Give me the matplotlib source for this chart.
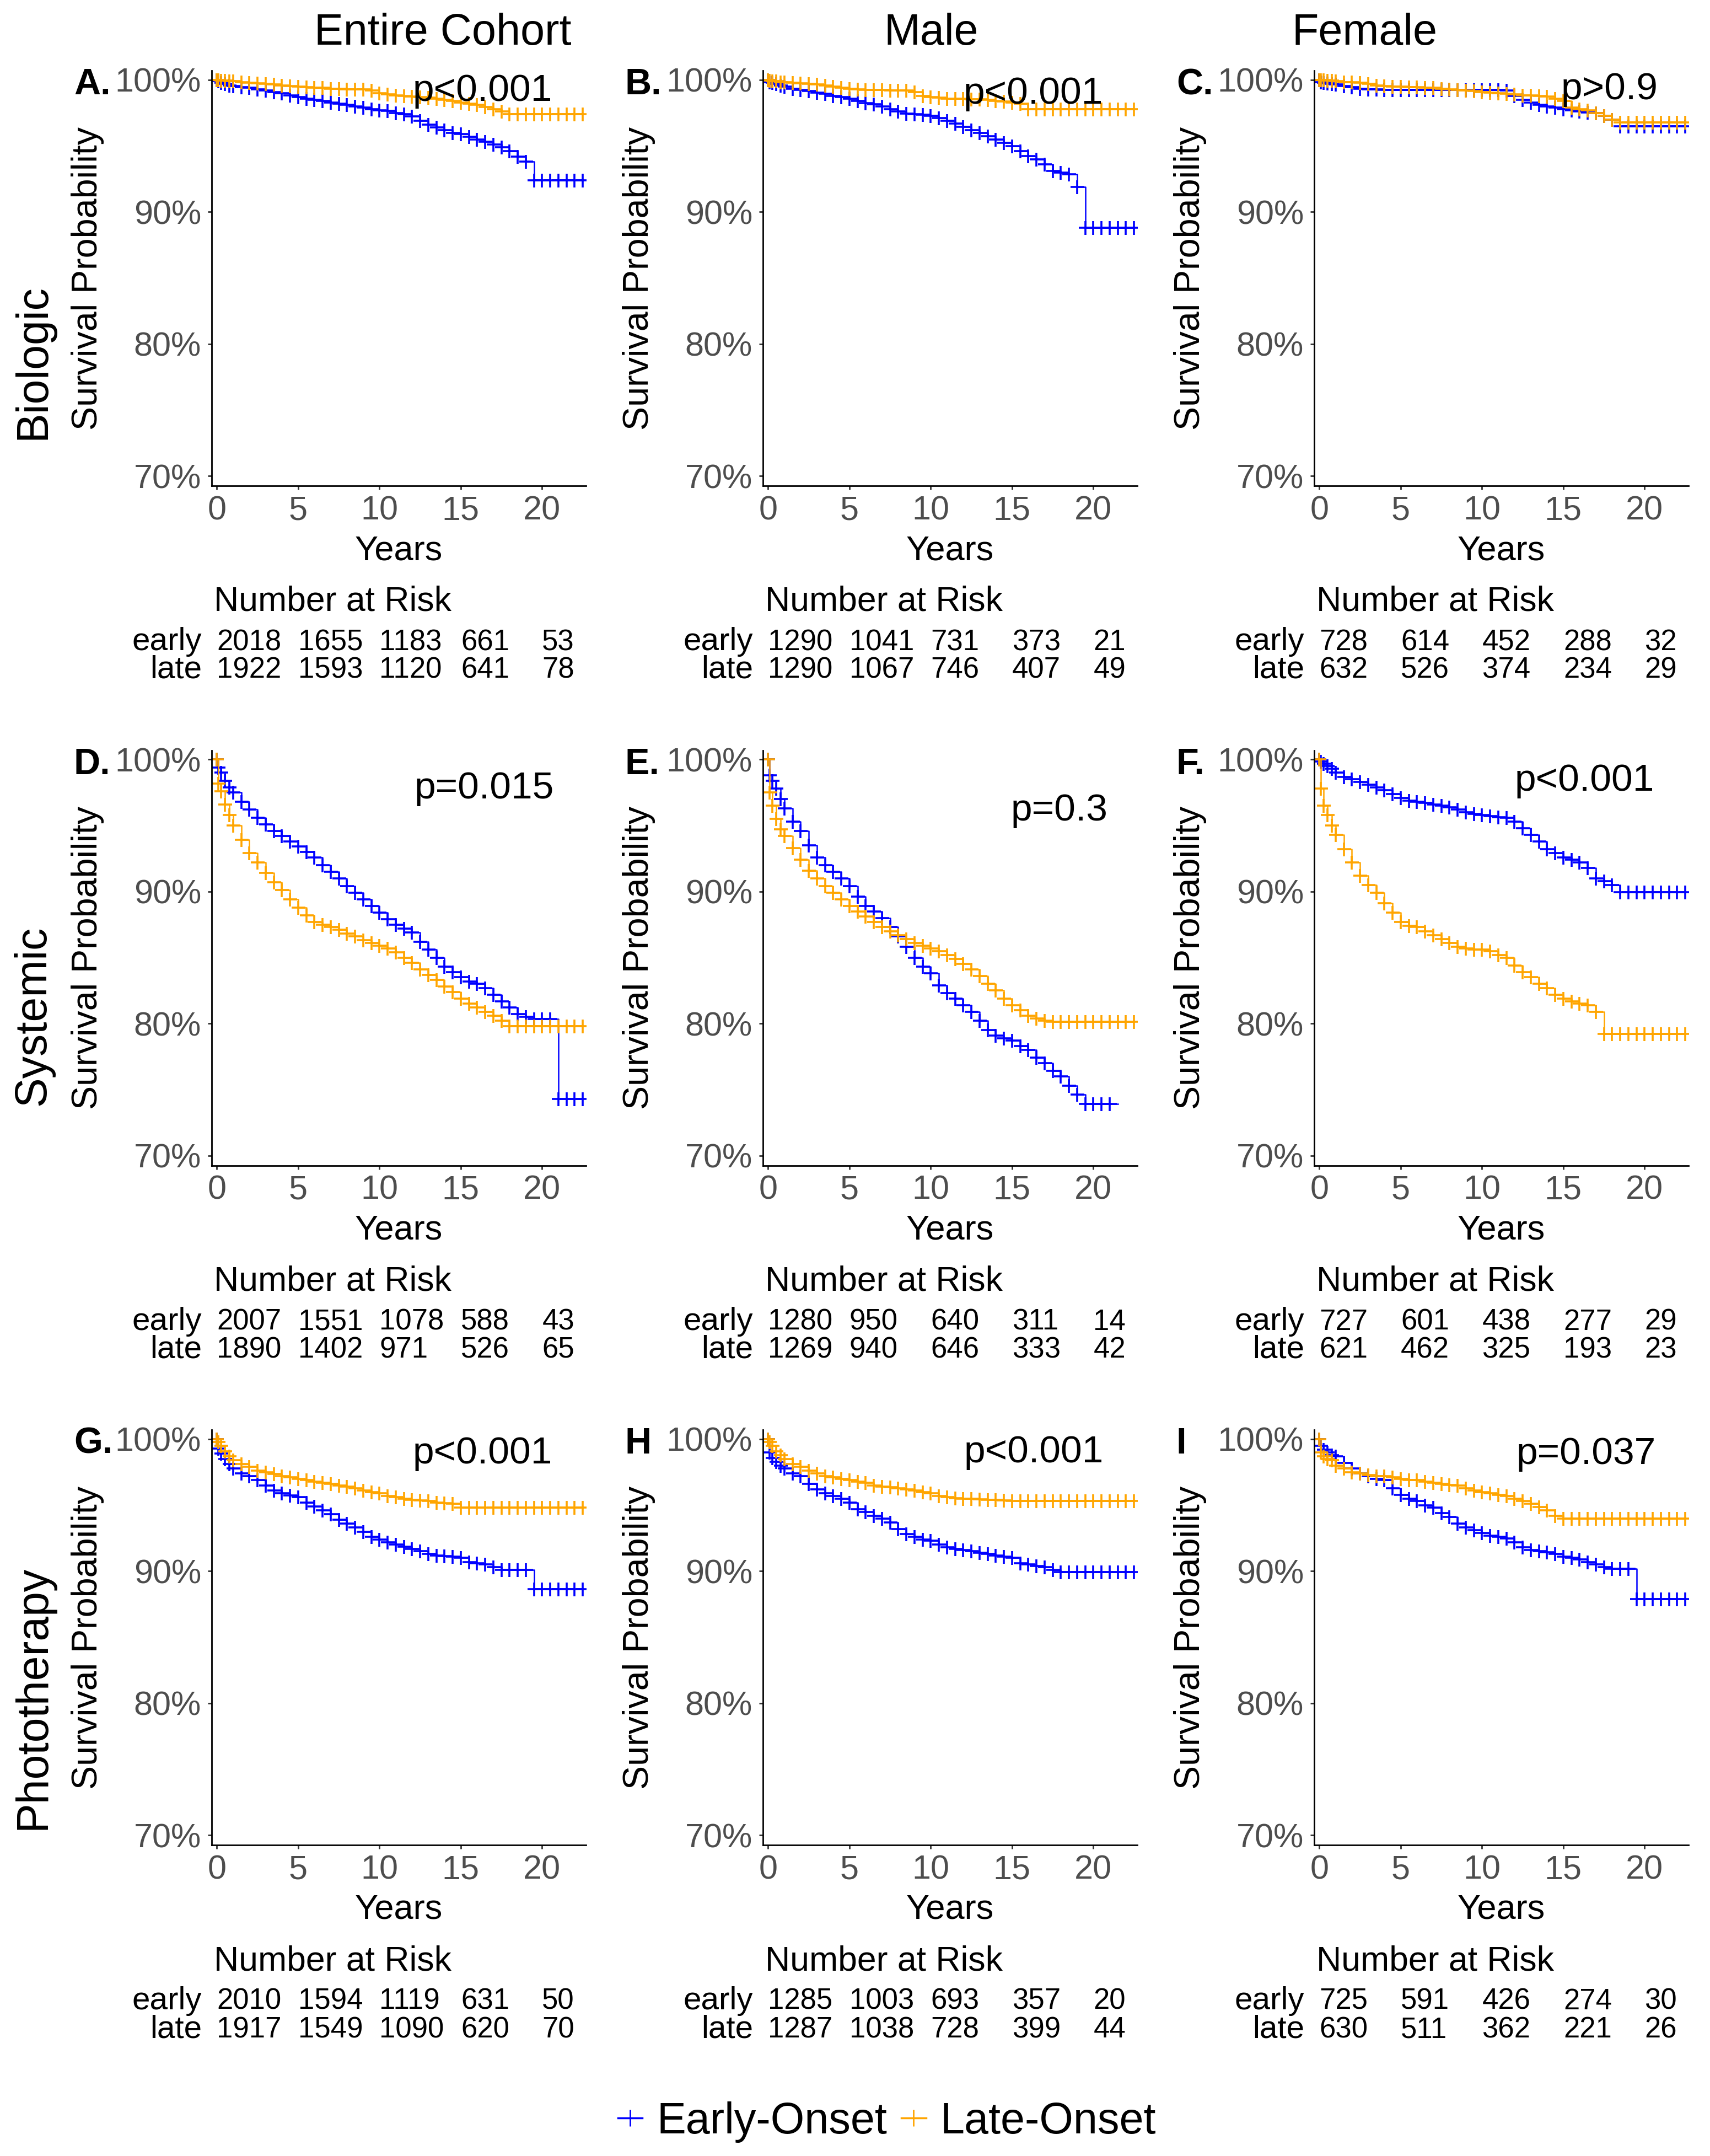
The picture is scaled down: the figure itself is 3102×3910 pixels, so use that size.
import matplotlib

matplotlib.use("Agg")
import matplotlib.pyplot as plt
import matplotlib.transforms as mtransforms
from matplotlib.lines import Line2D
import numpy as np

plt.rcParams["font.family"] = ["Liberation Sans", "DejaVu Sans"]

NA = np.nan

YEARS = [0, 0.1, 0.25, 0.5, 0.75, 1.0,
         1.5, 2, 2.5, 3, 3.5, 4, 4.5, 5, 5.5, 6,
         6.5, 7, 7.5, 8, 8.5, 9, 9.5, 10, 10.5, 11,
         11.5, 12, 12.5, 13, 13.5, 14, 14.5, 15, 15.5, 16,
         16.5, 17, 17.5, 18, 18.5, 19, 19.5, 20, 20.5, 21,
         21.5, 22, 22.5]

# survival (%) -- Biologic
BIO_ALL_EARLY = [100, 99.9, 99.8, 99.7, 99.6, 99.55,
                 99.45, 99.4, 99.3, 99.2, 99.1, 99.0, 98.85, 98.7, 98.6, 98.5,
                 98.4, 98.3, 98.2, 98.1, 98.0, 97.9, 97.8, 97.7, 97.65, 97.5,
                 97.4, 97.25, 96.9, 96.6, 96.4, 96.2, 96.0, 95.9, 95.7, 95.5,
                 95.3, 95.1, 94.9, 94.6, 94.2, 93.8, 92.4, 92.4, 92.4, 92.4,
                 92.4, 92.4, 92.4]
BIO_ALL_LATE = [100, 100, 99.95, 99.95, 99.9, 99.9,
                99.85, 99.8, 99.75, 99.7, 99.65, 99.6, 99.55, 99.5, 99.45, 99.4,
                99.4, 99.35, 99.35, 99.3, 99.3, 99.3, 99.2, 99.0, 98.9, 98.85,
                98.8, 98.75, 98.7, 98.65, 98.6, 98.5, 98.4, 98.3, 98.2, 98.1,
                97.95, 97.8, 97.6, 97.4, 97.4, 97.4, 97.4, 97.4, 97.4, 97.4,
                97.4, 97.4, 97.4]
BIO_MALE_EARLY = [100, 99.85, 99.8, 99.7, 99.6, 99.5,
                  99.35, 99.25, 99.15, 99.05, 98.95, 98.8, 98.7, 98.6, 98.4, 98.25,
                  98.15, 98.0, 97.8, 97.6, 97.45, 97.4, 97.35, 97.3, 97.1, 96.9,
                  96.7, 96.45, 96.2, 96.0, 95.75, 95.5, 95.25, 95.0, 94.6, 94.25,
                  94.0, 93.6, 93.1, 93.0, 92.85, 91.9, 88.8, 88.8, 88.8, 88.8,
                  88.8, 88.8, 88.8]
BIO_MALE_LATE = [100, 99.95, 99.9, 99.9, 99.85, 99.85,
                 99.8, 99.75, 99.7, 99.65, 99.6, 99.5, 99.4, 99.35, 99.3, 99.25,
                 99.25, 99.25, 99.2, 99.2, 99.2, 99.1, 98.8, 98.7, 98.65, 98.6,
                 98.6, 98.6, 98.55, 98.55, 98.5, 98.4, 98.35, 98.3, 98.2, 97.8,
                 97.8, 97.8, 97.8, 97.8, 97.8, 97.8, 97.8, 97.8, 97.8, 97.8,
                 97.8, 97.8, 97.8]
BIO_FEMALE_EARLY = [100, 99.85, 99.8, 99.75, 99.7, 99.65,
                    99.55, 99.45, 99.35, 99.3, 99.3, 99.25, 99.25, 99.25, 99.25, 99.25,
                    99.25, 99.25, 99.25, 99.25, 99.25, 99.25, 99.25, 99.25, 99.25, 99.25,
                    99.2, 98.8, 98.5, 98.3, 98.1, 98.0, 97.9, 97.8, 97.7, 97.6,
                    97.55, 97.5, 97.3, 97.0, 96.5, 96.5, 96.5, 96.5, 96.5, 96.5,
                    96.5, 96.5, 96.5]
BIO_FEMALE_LATE = [100, 100, 100, 99.95, 99.95, 99.9,
                   99.85, 99.85, 99.8, 99.7, 99.6, 99.55, 99.5, 99.5, 99.45, 99.45,
                   99.4, 99.4, 99.35, 99.3, 99.25, 99.2, 99.15, 99.1, 99.05, 99.0,
                   98.95, 98.9, 98.85, 98.85, 98.8, 98.75, 98.6, 98.4, 97.9, 97.8,
                   97.7, 97.5, 97.3, 97.0, 96.8, 96.8, 96.8, 96.8, 96.8, 96.8,
                   96.8, 96.8, 96.8]

# survival (%) -- Systemic
SYS_ALL_EARLY = [100, 99.4, 99.0, 98.4, 97.9, 97.5,
                 96.8, 96.2, 95.6, 95.1, 94.6, 94.2, 93.8, 93.4, 93.0, 92.6,
                 92.0, 91.5, 91.0, 90.4, 89.9, 89.4, 88.9, 88.4, 87.9, 87.5,
                 87.2, 86.9, 86.2, 85.6, 85.0, 84.3, 83.9, 83.5, 83.2, 83.0,
                 82.7, 82.2, 81.7, 81.2, 80.7, 80.5, 80.35, 80.35, 80.35, 74.3,
                 74.3, 74.3, 74.3]
SYS_ALL_LATE = [100, 98.2, 97.6, 96.6, 95.8, 95.0,
                93.9, 92.9, 92.2, 91.4, 90.7, 90.1, 89.4, 88.8, 88.2, 87.7,
                87.5, 87.3, 87.1, 86.8, 86.6, 86.3, 86.1, 85.9, 85.7, 85.4,
                85.0, 84.6, 84.1, 83.7, 83.3, 82.8, 82.4, 81.9, 81.5, 81.2,
                80.9, 80.6, 80.2, 79.8, 79.8, 79.8, 79.8, 79.8, 79.8, 79.8,
                79.8, 79.8, 79.8]
SYS_MALE_EARLY = [100, 98.8, 98.4, 97.8, 97.0, 96.3,
                  95.3, 94.6, 93.5, 92.6, 92.0, 91.5, 91.0, 90.4, 89.6, 88.9,
                  88.5, 88.0, 87.3, 86.6, 85.8, 85.0, 84.3, 83.8, 82.9, 82.3,
                  81.9, 81.4, 80.9, 80.2, 79.5, 79.1, 78.9, 78.7, 78.3, 78.0,
                  77.4, 77.0, 76.4, 76.0, 75.3, 74.6, 73.9, 73.9, 73.9, 73.9,
                  NA, NA, NA]
SYS_MALE_LATE = [100, 97.5, 96.5, 95.5, 94.7, 94.2,
                 93.3, 92.4, 91.6, 91.0, 90.4, 89.9, 89.4, 88.9, 88.5, 88.1,
                 87.7, 87.3, 87.0, 86.7, 86.4, 86.1, 85.9, 85.7, 85.5, 85.2,
                 84.9, 84.5, 84.1, 83.6, 83.0, 82.5, 81.9, 81.4, 81.0, 80.6,
                 80.4, 80.2, 80.15, 80.15, 80.15, 80.15, 80.15, 80.15, 80.15, 80.15,
                 80.15, 80.15, 80.15]
SYS_FEMALE_EARLY = [100, 99.85, 99.7, 99.5, 99.3, 99.0,
                    98.7, 98.5, 98.3, 98.1, 97.9, 97.7, 97.4, 97.1, 96.9, 96.8,
                    96.7, 96.6, 96.5, 96.4, 96.2, 96.0, 95.9, 95.8, 95.7, 95.65,
                    95.6, 95.3, 94.8, 94.3, 93.8, 93.2, 92.9, 92.6, 92.4, 92.2,
                    91.8, 91.0, 90.8, 90.5, 89.95, 89.95, 89.95, 89.95, 89.95, 89.95,
                    89.95, 89.95, 89.95]
SYS_FEMALE_LATE = [100, 97.8, 96.5, 95.8, 95.0, 94.3,
                   93.2, 92.2, 91.2, 90.5, 89.9, 89.1, 88.4, 87.7, 87.4, 87.3,
                   87.0, 86.7, 86.4, 86.1, 85.8, 85.7, 85.6, 85.6, 85.5, 85.2,
                   85.0, 84.4, 83.9, 83.5, 83.0, 82.7, 82.2, 81.9, 81.7, 81.5,
                   81.4, 80.9, 79.2, 79.2, 79.2, 79.2, 79.2, 79.2, 79.2, 79.2,
                   79.2, 79.2, 79.2]

# survival (%) -- Phototherapy
PHOTO_ALL_EARLY = [100, 99.3, 98.9, 98.5, 98.1, 97.8,
                   97.4, 97.2, 96.9, 96.5, 96.1, 95.9, 95.75, 95.6, 95.2, 94.9,
                   94.6, 94.3, 93.9, 93.6, 93.3, 93.0, 92.6, 92.4, 92.2, 92.0,
                   91.85, 91.7, 91.5, 91.3, 91.2, 91.15, 91.1, 91.0, 90.7, 90.6,
                   90.5, 90.3, 90.1, 90.1, 90.1, 90.1, 88.65, 88.65, 88.65, 88.65,
                   88.65, 88.65, 88.65]
PHOTO_ALL_LATE = [100, 99.8, 99.5, 99.1, 98.7, 98.4,
                  98.1, 97.9, 97.6, 97.5, 97.35, 97.2, 97.1, 97.0, 96.9, 96.8,
                  96.7, 96.6, 96.5, 96.4, 96.3, 96.1, 96.0, 95.9, 95.7, 95.6,
                  95.5, 95.4, 95.35, 95.3, 95.2, 95.15, 95.1, 94.8, 94.8, 94.8,
                  94.8, 94.8, 94.8, 94.8, 94.8, 94.8, 94.8, 94.8, 94.8, 94.8,
                  94.8, 94.8, 94.8]
PHOTO_MALE_EARLY = [100, 99.0, 98.6, 98.3, 98.0, 97.8,
                    97.4, 97.2, 96.6, 96.2, 95.9, 95.7, 95.5, 95.2, 94.7, 94.5,
                    94.2, 94.0, 93.7, 93.2, 92.8, 92.6, 92.4, 92.3, 92.0, 91.8,
                    91.7, 91.6, 91.5, 91.4, 91.3, 91.2, 91.1, 91.0, 90.6, 90.5,
                    90.4, 90.3, 90.1, 89.95, 89.95, 89.95, 89.95, 89.95, 89.95, 89.95,
                    89.95, 89.95, 89.95]
PHOTO_MALE_LATE = [100, 99.8, 99.5, 99.1, 98.8, 98.5,
                   98.1, 97.9, 97.6, 97.4, 97.2, 97.1, 97.0, 96.9, 96.8, 96.7,
                   96.5, 96.4, 96.35, 96.3, 96.2, 96.1, 96.0, 95.9, 95.7, 95.6,
                   95.55, 95.5, 95.5, 95.45, 95.4, 95.4, 95.35, 95.3, 95.3, 95.3,
                   95.3, 95.3, 95.3, 95.3, 95.3, 95.3, 95.3, 95.3, 95.3, 95.3,
                   95.3, 95.3, 95.3]
PHOTO_FEMALE_EARLY = [100, 99.5, 99.2, 99.0, 98.8, 98.7,
                      98.2, 97.8, 97.4, 97.2, 97.0, 96.9, 96.3, 95.8, 95.5, 95.3,
                      95.0, 94.8, 94.4, 94.1, 93.6, 93.3, 93.1, 92.9, 92.7, 92.6,
                      92.5, 92.2, 91.8, 91.6, 91.5, 91.45, 91.3, 91.1, 91.0, 90.9,
                      90.7, 90.5, 90.3, 90.2, 90.2, 90.2, 87.9, 87.9, 87.9, 87.9,
                      87.9, 87.9, 87.9]
PHOTO_FEMALE_LATE = [100, 99.0, 98.7, 98.5, 98.4, 98.0,
                     97.8, 97.5, 97.4, 97.3, 97.2, 97.2, 97.1, 97.0, 96.9, 96.9,
                     96.8, 96.7, 96.6, 96.55, 96.5, 96.3, 96.1, 96.0, 95.9, 95.8,
                     95.7, 95.5, 95.3, 95.1, 94.85, 94.6, 94.2, 94.0, 94.0, 94.0,
                     94.0, 94.0, 94.0, 94.0, 94.0, 94.0, 94.0, 94.0, 94.0, 94.0,
                     94.0, 94.0, 94.0]

# number at risk
RISK_YEARS = [0, 5, 10, 15, 20]
RISK_BIO_ALL_EARLY = [2018, 1655, 1183, 661, 53]
RISK_BIO_ALL_LATE = [1922, 1593, 1120, 641, 78]
RISK_BIO_MALE_EARLY = [1290, 1041, 731, 373, 21]
RISK_BIO_MALE_LATE = [1290, 1067, 746, 407, 49]
RISK_BIO_FEMALE_EARLY = [728, 614, 452, 288, 32]
RISK_BIO_FEMALE_LATE = [632, 526, 374, 234, 29]
RISK_SYS_ALL_EARLY = [2007, 1551, 1078, 588, 43]
RISK_SYS_ALL_LATE = [1890, 1402, 971, 526, 65]
RISK_SYS_MALE_EARLY = [1280, 950, 640, 311, 14]
RISK_SYS_MALE_LATE = [1269, 940, 646, 333, 42]
RISK_SYS_FEMALE_EARLY = [727, 601, 438, 277, 29]
RISK_SYS_FEMALE_LATE = [621, 462, 325, 193, 23]
RISK_PHOTO_ALL_EARLY = [2010, 1594, 1119, 631, 50]
RISK_PHOTO_ALL_LATE = [1917, 1549, 1090, 620, 70]
RISK_PHOTO_MALE_EARLY = [1285, 1003, 693, 357, 20]
RISK_PHOTO_MALE_LATE = [1287, 1038, 728, 399, 44]
RISK_PHOTO_FEMALE_EARLY = [725, 591, 426, 274, 30]
RISK_PHOTO_FEMALE_LATE = [630, 511, 362, 221, 26]

P_TEXT = ["p<0.001", "p<0.001", "p>0.9",
          "p=0.015", "p=0.3", "p<0.001",
          "p<0.001", "p<0.001", "p=0.037"]
PANEL_TAGS = ["A.", "B.", "C.", "D.", "E.", "F.", "G.", "H", "I"]
COL_TITLES = ["Entire Cohort", "Male", "Female"]
ROW_TITLES = ["Biologic", "Systemic", "Phototherapy"]
LEGEND_LABELS = ["Early-Onset", "Late-Onset"]

CURVES = [
    [(BIO_ALL_EARLY, BIO_ALL_LATE), (BIO_MALE_EARLY, BIO_MALE_LATE), (BIO_FEMALE_EARLY, BIO_FEMALE_LATE)],
    [(SYS_ALL_EARLY, SYS_ALL_LATE), (SYS_MALE_EARLY, SYS_MALE_LATE), (SYS_FEMALE_EARLY, SYS_FEMALE_LATE)],
    [(PHOTO_ALL_EARLY, PHOTO_ALL_LATE), (PHOTO_MALE_EARLY, PHOTO_MALE_LATE), (PHOTO_FEMALE_EARLY, PHOTO_FEMALE_LATE)],
]
RISKS = [
    [(RISK_BIO_ALL_EARLY, RISK_BIO_ALL_LATE), (RISK_BIO_MALE_EARLY, RISK_BIO_MALE_LATE),
     (RISK_BIO_FEMALE_EARLY, RISK_BIO_FEMALE_LATE)],
    [(RISK_SYS_ALL_EARLY, RISK_SYS_ALL_LATE), (RISK_SYS_MALE_EARLY, RISK_SYS_MALE_LATE),
     (RISK_SYS_FEMALE_EARLY, RISK_SYS_FEMALE_LATE)],
    [(RISK_PHOTO_ALL_EARLY, RISK_PHOTO_ALL_LATE), (RISK_PHOTO_MALE_EARLY, RISK_PHOTO_MALE_LATE),
     (RISK_PHOTO_FEMALE_EARLY, RISK_PHOTO_FEMALE_LATE)],
]

# ---- layout (pixels of the 3102x3910 canvas) ----
W, H = 3102, 3910
BLUE, ORANGE = "#0000FF", "#FFA500"
AX_LEFT, AX_TOP, AX_W, AX_H = 384, 128, 679, 753
COL_STEP, ROW_STEP = 1000, 1232.5
XLIM = (-0.32, 22.7)
YLIM = (69.25, 100.71)
# p-value label anchors (years, % baseline)
P_POS = [(16.35, 98.41), (16.3, 98.2), (17.85, 98.55),
         (16.45, 97.05), (17.9, 95.4), (16.3, 97.63),
         (16.35, 98.16), (16.35, 98.23), (16.4, 98.12)]
COL_TITLE_X = [803, 1689, 2476]
ROW_TITLE_Y = [656, 1842, 3078]


def fx(x):
    return x / W


def fy(y):
    return 1 - y / H


fig = plt.figure(figsize=(W / 100, H / 100), dpi=100)

for r in range(3):
    for c in range(3):
        i = r * 3 + c
        left = AX_LEFT + c * COL_STEP
        top = AX_TOP + r * ROW_STEP
        ax = fig.add_axes([fx(left), fy(top + AX_H), AX_W / W, AX_H / H])

        early, late = CURVES[r][c]
        for surv, col in ((early, BLUE), (late, ORANGE)):
            ax.plot(YEARS, surv, drawstyle="steps-post", color=col, lw=1.8)
            # censoring ticks
            ax.plot(YEARS, surv, ls="none", marker="+", ms=18, mew=2.6, color=col)

        ax.set_xlim(*XLIM)
        ax.set_ylim(*YLIM)
        ax.set_xticks([0, 5, 10, 15, 20])
        ax.set_yticks([70, 80, 90, 100])
        ax.set_yticklabels(["70%", "80%", "90%", "100%"])
        ax.tick_params(labelsize=44, labelcolor="#4D4D4D", color="#333333",
                       length=5, width=2)
        ax.tick_params(axis="y", pad=8.6)
        ax.tick_params(axis="x", pad=7.5)
        for s in ("top", "right"):
            ax.spines[s].set_visible(False)
        for s in ("left", "bottom"):
            ax.spines[s].set_linewidth(2)
            ax.spines[s].set_color("black")

        px_, py_ = P_POS[i]
        ax.text(px_, py_, P_TEXT[i], ha="center", va="baseline", fontsize=50)

        # axis titles
        fig.text(fx(159 + c * COL_STEP), fy(top + AX_H / 2), "Survival Probability",
                 rotation=90, ha="center", va="center", fontsize=46.5)
        fig.text(fx(left + AX_W / 2), fy(top + AX_H + 134), "Years",
                 ha="center", va="baseline", fontsize=45.5)
        fig.text(fx(134 + c * COL_STEP), fy(top + 43), PANEL_TAGS[i],
                 ha="left", va="baseline", fontsize=48, fontweight="bold")

        # number at risk table
        fig.text(fx(left + 4), fy(top + AX_H + 227), "Number at Risk",
                 ha="left", va="baseline", fontsize=45)
        trans = mtransforms.blended_transform_factory(ax.transData, fig.transFigure)
        e_risk, l_risk = RISKS[r][c]
        for name, vals, dy in (("early", e_risk, 298), ("late", l_risk, 349)):
            fig.text(fx(left - 18), fy(top + AX_H + dy), name,
                     ha="right", va="baseline", fontsize=42)
            for t, v in zip(RISK_YEARS, vals):
                ax.text(t, fy(top + AX_H + dy), str(v), transform=trans,
                        ha="left", va="baseline", fontsize=38, clip_on=False)

for c, title in enumerate(COL_TITLES):
    fig.text(fx(COL_TITLE_X[c]), fy(81), title, ha="center", va="baseline", fontsize=57)

for r, title in enumerate(ROW_TITLES):
    fig.text(fx(60), fy(ROW_TITLE_Y[r]), title, rotation=90,
             ha="center", va="center", fontsize=58)

handles = [Line2D([], [], color=BLUE, marker="+", ms=21, mew=2, lw=2.5),
           Line2D([], [], color=ORANGE, marker="+", ms=21, mew=2, lw=2.5)]
fig.legend(handles, LEGEND_LABELS, loc="center", bbox_to_anchor=(fx(1609), fy(3848)),
           ncol=2, frameon=False, fontsize=57, handlelength=0.56,
           handletextpad=0.33, columnspacing=0.33, borderpad=0)

fig.savefig("out.png", dpi=100)
